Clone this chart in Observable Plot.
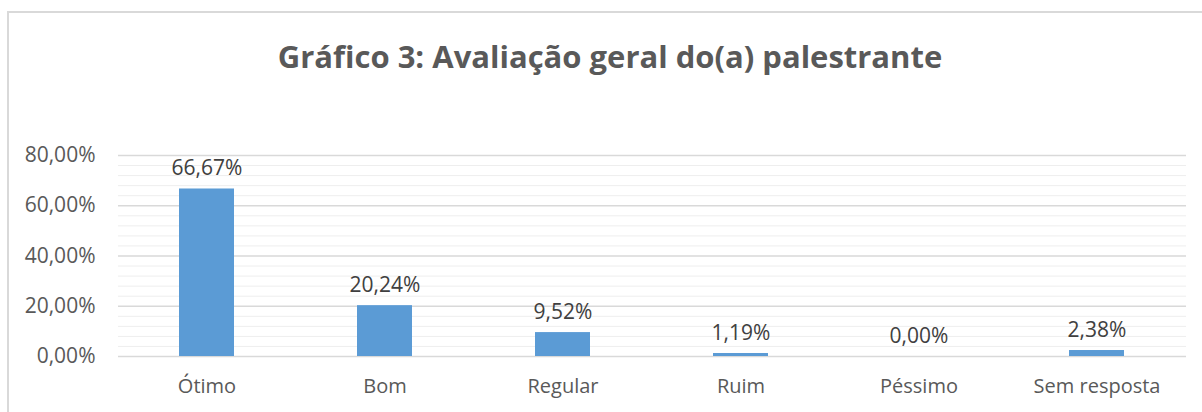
<!DOCTYPE html>
<html>
<head>
<meta charset="utf-8">
<script src="https://cdn.jsdelivr.net/npm/d3@7"></script>
<script src="https://cdn.jsdelivr.net/npm/@observablehq/plot@0.6"></script>
<style>
  body { margin: 0; background: #fff; font-family: "Open Sans", "Liberation Sans", sans-serif; }
  #wrap { position: relative; width: 1202px; height: 412px; overflow: hidden; }
  #frame { position: absolute; left: 7px; top: 11px; width: 1300px; height: 500px; border: 2px solid #d9d9d9; box-sizing: border-box; }
  #title { position: absolute; left: 0; width: 1220px; top: 35px; text-align: center; font-size: 31px; font-weight: bold; color: #595959; }
  #chart { position: absolute; left: 0; top: 0; }
</style>
</head>
<body>
<div id="wrap">
  <div id="frame"></div>
  <div id="title">Gráfico 3: Avaliação geral do(a) palestrante</div>
  <div id="chart"></div>
</div>
<script>
const categories = ["Ótimo", "Bom", "Regular", "Ruim", "Péssimo", "Sem resposta"];
const values = [66.67, 20.24, 9.52, 1.19, 0.00, 2.38];
const majorTicks = [0, 20, 40, 60, 80];
const minorTicks = [4, 8, 12, 16, 24, 28, 32, 36, 44, 48, 52, 56, 64, 68, 72, 76];

const data = categories.map((c, i) => ({category: c, value: values[i]}));
const fmt = v => v.toFixed(2).replace(".", ",") + "%";

const chart = Plot.plot({
  width: 1202,
  height: 412,
  marginTop: 155,
  marginBottom: 56,
  marginLeft: 118,
  marginRight: 16,
  style: {fontFamily: "'Open Sans', 'Liberation Sans', sans-serif", color: "#595959", background: "transparent"},
  x: {domain: categories, paddingInner: 0.69, paddingOuter: 0.345},
  y: {domain: [0, 80]},
  marks: [
    Plot.ruleY(minorTicks, {stroke: "#eeeeee", strokeWidth: 1, strokeOpacity: 1}),
    Plot.ruleY(majorTicks, {stroke: "#d9d9d9", strokeWidth: 1.5, strokeOpacity: 1}),
    Plot.axisY(majorTicks, {tickFormat: fmt, label: null, tickSize: 0, tickPadding: 23, fontSize: 21, fill: "#595959"}),
    Plot.axisX({label: null, tickSize: 0, tickPadding: 22, fontSize: 20, fill: "#595959"}),
    Plot.barY(data, {x: "category", y: "value", fill: "#5b9bd5"}),
    Plot.text(data, {x: "category", y: "value", text: d => fmt(d.value), lineAnchor: "bottom", dy: -14, fill: "#404040", fontSize: 21})
  ]
});
document.getElementById("chart").appendChild(chart);
</script>
</body>
</html>
